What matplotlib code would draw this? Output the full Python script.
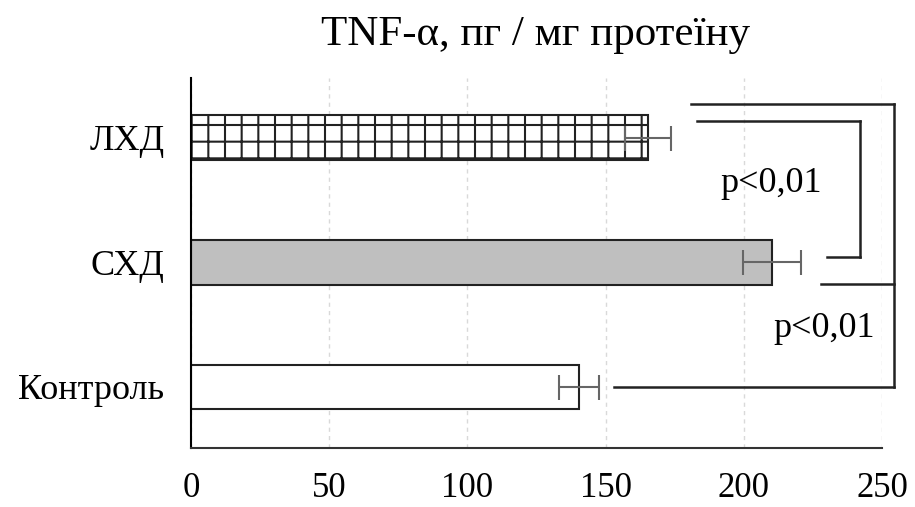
import matplotlib
matplotlib.use("Agg")
import matplotlib.pyplot as plt

# Data
categories = ["Контроль", "СХД", "ЛХД"]
values = [140.4, 210.2, 165.3]
errors = [7.2, 10.5, 8.3]
fills = ["white", "#bfbfbf", "white"]
hatches = [None, None, "+"]
xticks = [0, 50, 100, 150, 200, 250]
p_label = "p<0,01"

plt.rcParams["font.family"] = ["Liberation Serif", "DejaVu Serif"]
plt.rcParams["hatch.linewidth"] = 1.5

fig = plt.figure(figsize=(9.15, 5.07), dpi=100)
ax = fig.add_axes([0.2087, 0.1164, 0.7552, 0.7296])

ypos = list(range(len(categories)))
for y, v, e, fc, h in zip(ypos, values, errors, fills, hatches):
    ax.barh(y, v, height=0.36, color=fc, edgecolor="#222222", linewidth=1.5,
            hatch=h, zorder=2)
    ax.errorbar(v, y, xerr=e, fmt="none", ecolor="#666666", elinewidth=1.5,
                capsize=9, capthick=1.5, zorder=3)

ax.set_xlim(0, 250)
ax.set_ylim(-0.49, 2.48)
ax.set_xticks(xticks)
ax.set_yticks(ypos)
ax.set_yticklabels(categories)
ax.tick_params(axis="both", length=0, labelsize=26)
ax.tick_params(axis="x", labelsize=25, pad=17)
ax.tick_params(axis="y", pad=19)
ax.xaxis.grid(True, color="#d9d9d9", linestyle=(0, (3, 3)), linewidth=1, zorder=0)
ax.set_axisbelow(True)
for s in ["top", "right"]:
    ax.spines[s].set_visible(False)
ax.spines["left"].set_linewidth(1.5)
ax.spines["bottom"].set_linewidth(1.5)
ax.spines["bottom"].set_color("#333333")

# Significance brackets
lk = dict(color="#222222", linewidth=1.8, clip_on=False, zorder=4)
# ЛХД vs СХД
ax.plot([183, 242], [2.0 + 0.135, 2.0 + 0.135], **lk)
ax.plot([242, 242], [2.135, 1.04], **lk)
ax.plot([230, 242], [1.04, 1.04], **lk)
ax.text(210, 1.63, p_label, fontsize=26, ha="center", va="center")
# Контроль vs ЛХД / СХД
ax.plot([181, 254.5], [2.27, 2.27], **lk)
ax.plot([254.5, 254.5], [2.27, 0.0], **lk)
ax.plot([228, 254.5], [0.83, 0.83], **lk)
ax.plot([153, 254.5], [0.0, 0.0], **lk)
ax.text(229, 0.47, p_label, fontsize=26, ha="center", va="center")

fig.text(0.585, 0.932, "TNF-α, пг / мг протеїну", fontsize=31, ha="center", va="center")

fig.savefig("out.png", dpi=100)
